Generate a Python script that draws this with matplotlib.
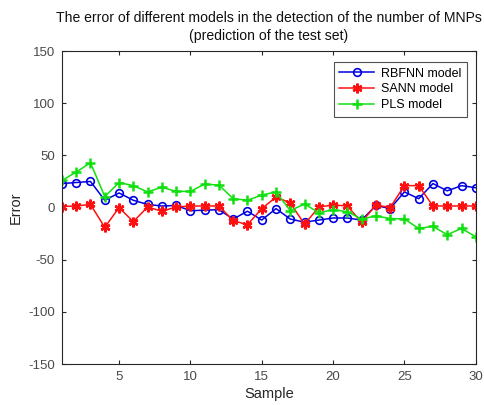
import matplotlib.pyplot as plt
import numpy as np

plt.rcParams['font.family'] = ['Liberation Sans', 'DejaVu Sans']
plt.rcParams['axes.unicode_minus'] = False

sample = np.arange(1, 31)

rbfnn = [23, 24, 25, 7, 14, 7, 3, 1.5, 2, -3, -2.5, -2, -11, -3.5, -12,
         -1, -11, -14, -12, -10, -10, -12, 2, -1, 15, 8.5, 23, 16, 21, 19]
sann = [1, 1.5, 3, -19, 0, -13.5, 0.5, -3.5, 0.5, 1.5, 1.5, 1.5, -12.5, -16.5, -1,
        10, 4.5, -16, 0.5, 2.5, 1.5, -14, 2.5, 0, 21, 21, 1.5, 1.5, 1.5, 1.5]
pls = [26, 34, 43, 10.5, 24, 21, 15, 19.5, 15.5, 15.5, 22.5, 21.5, 8.5, 7, 12,
       15, -3, 3.5, -5, -2, -4, -11, -8, -10.5, -11, -20, -18, -26, -20, -28]

labels = ['RBFNN model', 'SANN model', 'PLS model']
xticks = [5, 10, 15, 20, 25, 30]
yticks = [-150, -100, -50, 0, 50, 100, 150]

fig = plt.figure(figsize=(4.84, 4.05), dpi=100)
ax = fig.add_axes([0.128, 0.101, 0.855, 0.773])

asterisk = (6, 2, 0)
ax.plot(sample, rbfnn, color='#0000e0', lw=1.1, marker='o', ms=5.5,
        mfc='none', mew=1.2, label=labels[0])
ax.plot(sample, sann, color='#ff1010', lw=1.1, marker=asterisk, ms=7,
        mew=1.8, label=labels[1])
ax.plot(sample, pls, color='#10e010', lw=1.1, marker='+', ms=7.5,
        mew=1.8, label=labels[2])

ax.set_xlim(1, 30)
ax.set_ylim(-150, 150)
ax.set_xticks(xticks)
ax.set_yticks(yticks)
ax.tick_params(direction='in', length=3, top=True, right=True,
               labelsize=9.5, colors='#262626', labelcolor='#4a4a4a', pad=5)
for s in ax.spines.values():
    s.set_color('#262626')
    s.set_linewidth(0.8)

ax.set_xlabel('Sample', fontsize=10.5, color='#262626', labelpad=3)
ax.set_ylabel('Error', fontsize=10.5, color='#262626', labelpad=4)
ax.set_title('The error of different models in the detection of the number of MNPs\n'
             '(prediction of the test set)', fontsize=10.1, color='#111111', pad=8,
             linespacing=1.35)

leg = ax.legend(loc='upper right', bbox_to_anchor=(0.993, 0.985), fontsize=9,
                fancybox=False, edgecolor='#262626', handlelength=2.8,
                borderpad=0.45, labelspacing=0.3, handletextpad=0.5)
leg.get_frame().set_linewidth(0.8)

fig.savefig('out.png', dpi=100)
